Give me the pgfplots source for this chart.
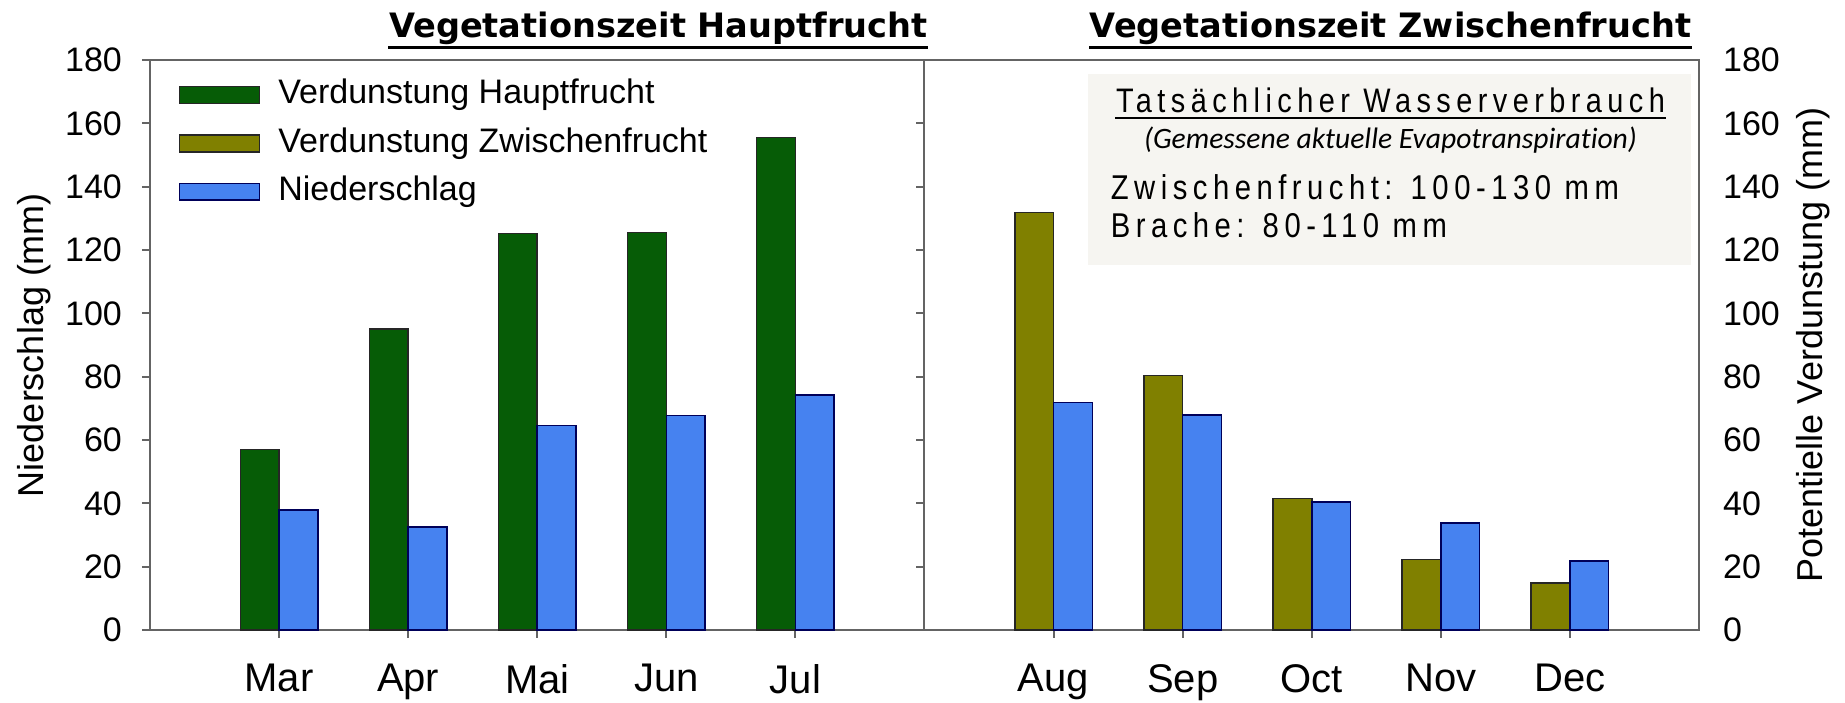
\documentclass[border=0pt]{standalone}
\usepackage{fontspec}
\setmainfont{Liberation Sans}
\newfontfamily\titlefont{DejaVu Sans}
\newfontfamily\boxfont[FakeStretch=0.85,LetterSpace=16]{Liberation Sans}
\newfontfamily\notefont[Ligatures=NoCommon]{Carlito}
\usepackage{pgfplots}
\pgfplotsset{compat=1.18}
\definecolor{cgreen}{RGB}{6,92,6}
\definecolor{colive}{RGB}{128,128,0}
\definecolor{cblue}{RGB}{70,130,240}
\definecolor{caxis}{RGB}{100,100,100}
\definecolor{cbox}{RGB}{246,245,241}
\begin{document}
\begin{tikzpicture}
\path[use as bounding box] (-37.5pt,-18.25pt) rectangle (423.75pt,157.5pt);
\begin{axis}[
  at={(0pt,0pt)}, anchor=south west,
  scale only axis, width=387.25pt, height=142.5pt,
  xmin=-1, xmax=11, ymin=0, ymax=180,
  clip=false,
  axis line style={caxis, line width=0.5pt},
  tick style={caxis, line width=0.5pt},
  tick align=outside, major tick length=2pt,
  xtick pos=bottom, ytick pos=left,
  ytick={0,20,...,180},
  xtick={0,1,2,3,4,6,7,8,9,10},
  xticklabels={Mar,Apr,Mai,Jun,Jul,Aug,Sep,Oct,Nov,Dec},
  /pgf/number format/assume math mode=true,
  yticklabel style={font=\fontsize{8.5}{10}\selectfont, xshift=-1.5pt},
  xticklabel style={font=\fontsize{10}{12}\selectfont, yshift=-3pt},
  ylabel={Niederschlag (mm)},
  ylabel style={font=\fontsize{9}{11}\selectfont, at={(axis description cs:-0.075,0.5)}, anchor=center},
  ybar, bar width=0.3,
  legend style={at={(axis description cs:0,1)}, anchor=north west, xshift=7pt, yshift=-4pt,
    draw=none, fill=none, inner sep=0pt, row sep=3pt,
    font=\fontsize{8.5}{10}\selectfont,
    nodes={inner sep=0.5pt, text height=6.3pt, text depth=1.8pt},
    cells={anchor=west}},
  legend image code/.code={\draw[#1] (0pt,-2.1pt) rectangle (20pt,2.1pt);},
  /tikz/every odd column/.append style={column sep=4pt},
]
\addplot[fill=cgreen, draw=black!85, line width=0.4pt, bar shift=-0.15]
  coordinates {(0,57) (1,95) (2,125.2) (3,125.5) (4,155.5)};
\addlegendentry{Verdunstung Hauptfrucht}
\addplot[fill=colive, draw=black!85, line width=0.4pt, bar shift=-0.15]
  coordinates {(6,131.8) (7,80.4) (8,41.5) (9,22.2) (10,14.9)};
\addlegendentry{Verdunstung Zwischenfrucht}
\addplot[fill=cblue, draw=blue!35!black, line width=0.4pt, bar shift=0.15]
  coordinates {(0,37.8) (1,32.6) (2,64.6) (3,67.7) (4,74.2) (6,71.8) (7,67.9) (8,40.4) (9,33.8) (10,21.8)};
\addlegendentry{Niederschlag}
% text box
\fill[cbox] (axis cs:6.27,115.3) rectangle (axis cs:10.94,175.6);
% divider
\draw[caxis, line width=0.5pt] (axis cs:5,0) -- (axis cs:5,180);
\pgfplotsinvokeforeach{20,40,60,80,100,120,140,160}{
  \draw[caxis, line width=0.5pt] (axis cs:5,#1) -- ++(-2pt,0pt);
}
% box texts
\node[font=\boxfont\fontsize{8.5}{10}\selectfont, inner sep=0pt, anchor=base] (bt) at (axis cs:8.61,163.3) {Tatsächlicher Wasserverbrauch};
\draw[line width=0.45pt] ([yshift=-1.2pt]bt.base west) -- ([yshift=-1.2pt]bt.base east);
\node[font=\notefont\itshape\fontsize{7.4}{9}\selectfont, inner sep=0pt, anchor=center] at (axis cs:8.61,154.7) {(Gemessene aktuelle Evapotranspiration)};
\node[font=\boxfont\fontsize{8.6}{10.4}\selectfont, inner sep=0pt, anchor=base west] at (axis cs:6.437,135.8) {Zwischenfrucht: 100-130 mm};
\node[font=\boxfont\fontsize{8.6}{10.4}\selectfont, inner sep=0pt, anchor=base west] at (axis cs:6.437,123.8) {Brache: 80-110 mm};
% titles
\node[font=\titlefont\bfseries\fontsize{8.4}{10}\selectfont, inner sep=0pt, anchor=base] (t1) at (axis cs:2.938,187.2) {Vegetationszeit Hauptfrucht};
\draw[line width=0.7pt] ([yshift=-0.6pt]t1.south west) -- ([yshift=-0.6pt]t1.south east);
\node[font=\titlefont\bfseries\fontsize{8.4}{10}\selectfont, inner sep=0pt, anchor=base] (t2) at (axis cs:8.61,187.2) {Vegetationszeit Zwischenfrucht};
\draw[line width=0.7pt] ([yshift=-0.6pt]t2.south west) -- ([yshift=-0.6pt]t2.south east);
\end{axis}
\begin{axis}[
  at={(0pt,0pt)}, anchor=south west,
  scale only axis, width=387.25pt, height=142.5pt,
  xmin=-1, xmax=11, ymin=0, ymax=180,
  axis x line=none, axis y line*=right,
  axis line style={caxis, line width=0.5pt},
  ytick={0,20,...,180}, major tick length=0pt,
  /pgf/number format/assume math mode=true,
  yticklabel style={font=\fontsize{8.5}{10}\selectfont, xshift=2.5pt},
  ylabel={Potentielle Verdunstung (mm)},
  ylabel style={font=\fontsize{9}{11}\selectfont, at={(axis description cs:1.0736,0.5)}, anchor=center},
]
\addplot[draw=none] coordinates {(0,0)};
\end{axis}
\end{tikzpicture}
\end{document}
